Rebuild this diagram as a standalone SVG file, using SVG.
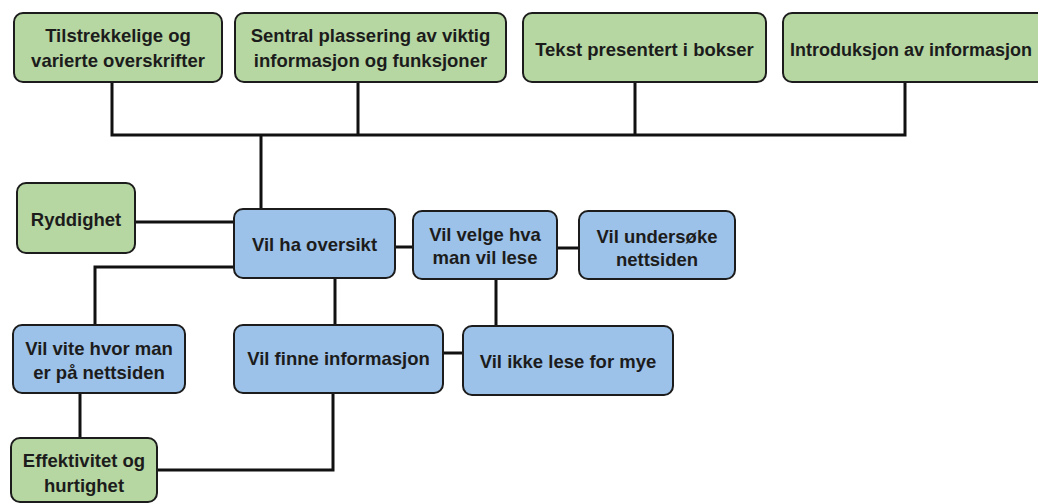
<svg xmlns="http://www.w3.org/2000/svg" width="1038" height="504" viewBox="0 0 1038 504">
<style>
.g{fill:#b6d7a1;stroke:#1c1c1c;stroke-width:2}
.b{fill:#9cc2e9;stroke:#1c1c1c;stroke-width:2}
text{font-family:"Liberation Sans",Arial,sans-serif;font-weight:bold;font-size:18.5px;fill:#1c1c1c;text-anchor:middle}
.c{fill:none;stroke:#111;stroke-width:3}
</style>
<rect width="1038" height="504" fill="#ffffff"/>
<g id="connectors" class="c">
<path d="M112,82V135M358,82V135M635,82V135M905,82V135M110.5,135H906.5M261,135V209"/>
<path d="M135,222H234"/>
<path d="M395,247H413"/>
<path d="M557,248H579"/>
<path d="M496,279V326"/>
<path d="M335,278V325"/>
<path d="M234,267H95V325"/>
<path d="M443,353H463"/>
<path d="M80,393V438"/>
<path d="M157,470H333V393"/>
</g>
<g id="n1"><rect class="g" x="14" y="13" width="208" height="69" rx="9"/><text x="118" y="42">Tilstrekkelige og</text><text x="118" y="67">varierte overskrifter</text></g>
<g id="n2"><rect class="g" x="235" y="13" width="271" height="69" rx="9"/><text x="370.5" y="42">Sentral plassering av viktig</text><text x="370.5" y="67">informasjon og funksjoner</text></g>
<g id="n3"><rect class="g" x="523" y="13" width="243" height="69" rx="9"/><text x="644.5" y="56">Tekst presentert i bokser</text></g>
<g id="n4"><rect class="g" x="783" y="13" width="270" height="69" rx="9"/><text x="790" y="56" style="text-anchor:start;font-size:18px">Introduksjon av informasjon</text></g>
<g id="n5"><rect class="g" x="17" y="183" width="118" height="70" rx="9"/><text x="76" y="226">Ryddighet</text></g>
<g id="n6"><rect class="b" x="234" y="209" width="161" height="69" rx="9"/><text x="314.5" y="250.5">Vil ha oversikt</text></g>
<g id="n7"><rect class="b" x="413" y="211" width="144" height="68" rx="9"/><text x="485" y="240.5">Vil velge hva</text><text x="485" y="263.5">man vil lese</text></g>
<g id="n8"><rect class="b" x="579" y="211" width="156" height="68" rx="9"/><text x="657" y="242.5">Vil undersøke</text><text x="657" y="266">nettsiden</text></g>
<g id="n9"><rect class="b" x="13" y="325" width="172" height="68" rx="9"/><text x="99" y="355">Vil vite hvor man</text><text x="99" y="379">er på nettsiden</text></g>
<g id="n10"><rect class="b" x="234" y="325" width="209" height="68" rx="9"/><text x="338.5" y="365">Vil finne informasjon</text></g>
<g id="n11"><rect class="b" x="463" y="326" width="210" height="69" rx="9"/><text x="568" y="368">Vil ikke lese for mye</text></g>
<g id="n12"><rect class="g" x="11" y="438" width="146" height="64" rx="9"/><text x="84" y="466.5">Effektivitet og</text><text x="84" y="491.5">hurtighet</text></g>
</svg>
